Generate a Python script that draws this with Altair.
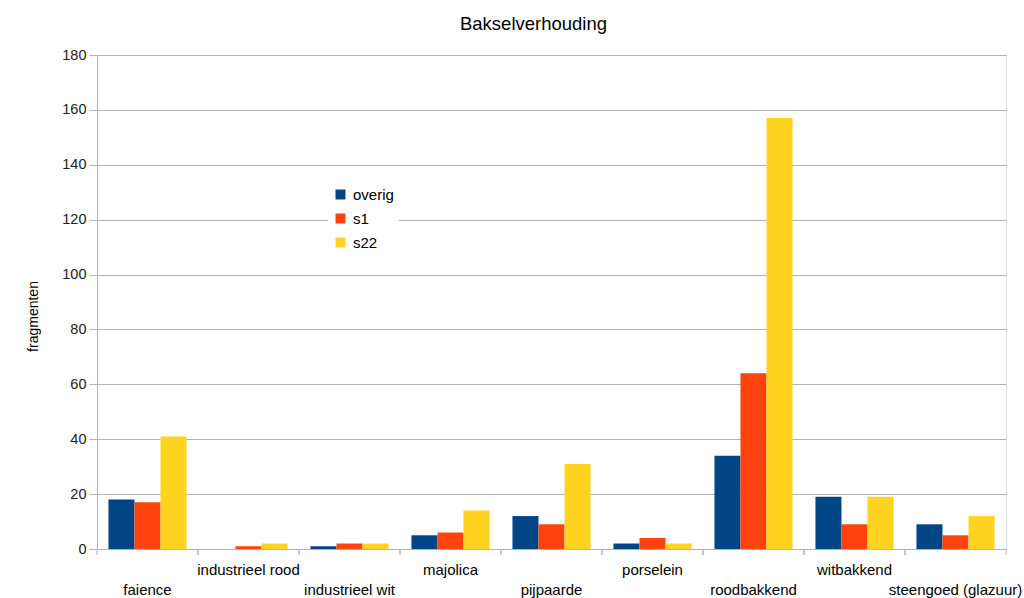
import altair as alt
import pandas as pd

categories = ["faience", "industrieel rood", "industrieel wit", "majolica", "pijpaarde",
              "porselein", "roodbakkend", "witbakkend", "steengoed (glazuur)"]
series = ["overig", "s1", "s22"]
overig = [18, 0, 1, 5, 12, 2, 34, 19, 9]
s1 = [17, 1, 2, 6, 9, 4, 64, 9, 5]
s22 = [41, 2, 2, 14, 31, 2, 157, 19, 12]
colors = ["#004586", "#ff420e", "#ffd320"]

rows = []
for i, c in enumerate(categories):
    for s, vals in zip(series, [overig, s1, s22]):
        rows.append({"cat": c, "series": s, "value": vals[i]})
df = pd.DataFrame(rows)
cat_df = pd.DataFrame({"cat": categories, "row": [i % 2 for i in range(len(categories))]})

W, H = 909, 494
FONT = "Liberation Sans"
grid = "#b3b3b3"

xenc = alt.X("cat:N", sort=categories, scale=alt.Scale(paddingInner=0, paddingOuter=0),
             axis=alt.Axis(labels=False, ticks=False, title=None, domain=True, domainColor=grid))

bars = alt.Chart(df).mark_bar().encode(
    x=xenc,
    xOffset=alt.XOffset("series:N", sort=series, scale=alt.Scale(paddingInner=0, paddingOuter=0.44)),
    y=alt.Y("value:Q", scale=alt.Scale(domain=[0, 180]),
            axis=alt.Axis(values=list(range(0, 181, 20)), title="fragmenten", titleFont=FONT,
                          titleFontSize=14, titleFontWeight="normal", titleColor="#000",
                          titleX=-60, titleY=261, titleAngle=270, titleAlign="center",
                          titleBaseline="alphabetic",
                          labelFont=FONT, labelFontSize=14.5, labelColor="#222",
                          tickSize=8, tickColor=grid, domainColor=grid, gridColor=grid,
                          labelPadding=3)),
    color=alt.Color("series:N", sort=series, scale=alt.Scale(domain=series, range=colors),
                    legend=alt.Legend(title=None, orient="none", legendX=231, legendY=127,
                                      symbolType="square", symbolSize=100, symbolStrokeWidth=0,
                                      labelFont=FONT, labelFontSize=15, labelColor="#000",
                                      labelOffset=5, rowPadding=8, fillColor="white", padding=5)),
)

ticks_start = alt.Chart(cat_df).mark_rule(color=grid).encode(
    x=alt.X("cat:N", sort=categories, bandPosition=0),
    y=alt.value(H), y2=alt.value(H + 6))
ticks_end = alt.Chart(cat_df).mark_rule(color=grid).encode(
    x=alt.X("cat:N", sort=categories, bandPosition=1),
    y=alt.value(H), y2=alt.value(H + 6))

lab_up = alt.Chart(cat_df).transform_filter("datum.row == 1").mark_text(
    font=FONT, fontSize=15, color="#000", baseline="alphabetic").encode(
    x=alt.X("cat:N", sort=categories), y=alt.value(H + 26), text="cat:N")
lab_down = alt.Chart(cat_df).transform_filter("datum.row == 0").mark_text(
    font=FONT, fontSize=15, color="#000", baseline="alphabetic").encode(
    x=alt.X("cat:N", sort=categories), y=alt.value(H + 46), text="cat:N")

chart = alt.layer(bars, ticks_start, ticks_end, lab_up, lab_down).properties(
    width=W, height=H,
    title=alt.TitleParams("Bakselverhouding", font=FONT, fontSize=18.5, fontWeight="normal",
                          color="#000", anchor="middle", dx=-18, offset=22, dy=8),
    autosize="none",
    padding={"left": 97, "top": 55, "right": 18, "bottom": 49},
).configure_view(stroke=grid).configure(background="white")

chart.save("out.html", embed_options={"renderer": "svg", "actions": False})
